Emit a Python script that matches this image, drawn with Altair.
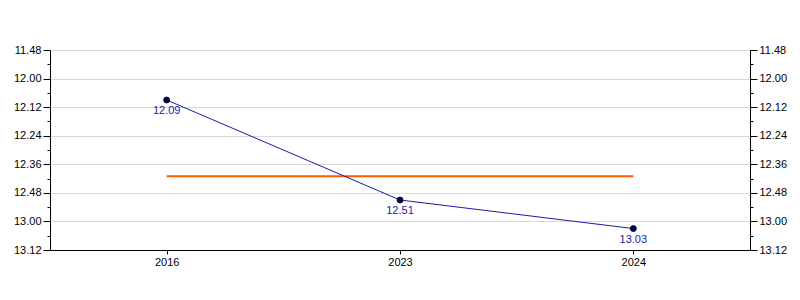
import altair as alt
import pandas as pd

years = ["2016", "2023", "2024"]
times = [729, 771, 783]          # seconds: 12:09, 12:51, 13:03
point_labels = ["12.09", "12.51", "13.03"]
target = [761, 761, 761]          # about 12:41
major_ticks = [708, 720, 732, 744, 756, 768, 780, 792]
minor_ticks = [714, 726, 738, 750, 762, 774, 786]

df = pd.DataFrame({"year": years, "t": times, "label": point_labels, "target": target})

FONT = "Liberation Sans"
label_expr = "floor(datum.value/60) + '.' + (datum.value%60 < 10 ? '0' : '') + (datum.value%60)"

yscale = alt.Scale(domain=[708, 792], reverse=True, nice=False, zero=False)
xenc = alt.X("year:O", sort=years, scale=alt.Scale(type="point", padding=0.5),
             axis=alt.Axis(title=None, labelAngle=0, tickSize=4, labelPadding=2,
                           domainColor="black", tickColor="black", labelColor="black",
                           labelFont=FONT, labelFontSize=11, grid=False))


def major_axis(orient, grid):
    return alt.Axis(orient=orient, title=None, values=major_ticks, labelExpr=label_expr,
                    tickSize=7, labelPadding=2, grid=grid, gridColor="#d9d9d9",
                    domainColor="black", tickColor="black", labelColor="black",
                    labelFont=FONT, labelFontSize=11)


def minor_axis(orient):
    return alt.Axis(orient=orient, title=None, values=minor_ticks, labels=False,
                    tickSize=3, grid=False, domain=False, tickColor="black")


base = alt.Chart(df)

target_line = base.mark_line(color="#ff5a00", strokeWidth=2).encode(
    x=xenc, y=alt.Y("target:Q", scale=yscale, axis=major_axis("left", True)))

main_line = base.mark_line(color="#1a1aa8", strokeWidth=1).encode(
    x=xenc, y=alt.Y("t:Q", scale=yscale, axis=major_axis("right", False)))

pts = base.mark_point(filled=True, color="#00005e", stroke="black", strokeWidth=0.8,
                      size=36, opacity=1).encode(
    x=xenc, y=alt.Y("t:Q", scale=yscale, axis=minor_axis("left")))

pts2 = base.mark_point(opacity=0).encode(
    x=xenc, y=alt.Y("t:Q", scale=yscale, axis=minor_axis("right")))

txt = base.mark_text(color="#1a1aa8", dy=11, font=FONT, fontSize=11).encode(
    x=xenc, y=alt.Y("t:Q", scale=yscale, axis=None), text="label:N")

chart = alt.layer(target_line, main_line, pts, pts2, txt).resolve_scale(
    y="shared").resolve_axis(y="independent").properties(
    width=700, height=200,
    autosize=alt.AutoSizeParams(type="none"),
    padding={"left": 50, "top": 50, "right": 50, "bottom": 50},
).configure_view(stroke="black", strokeWidth=1).configure(background="white")

chart.save("out.html", embed_options={"renderer": "svg", "actions": False})
